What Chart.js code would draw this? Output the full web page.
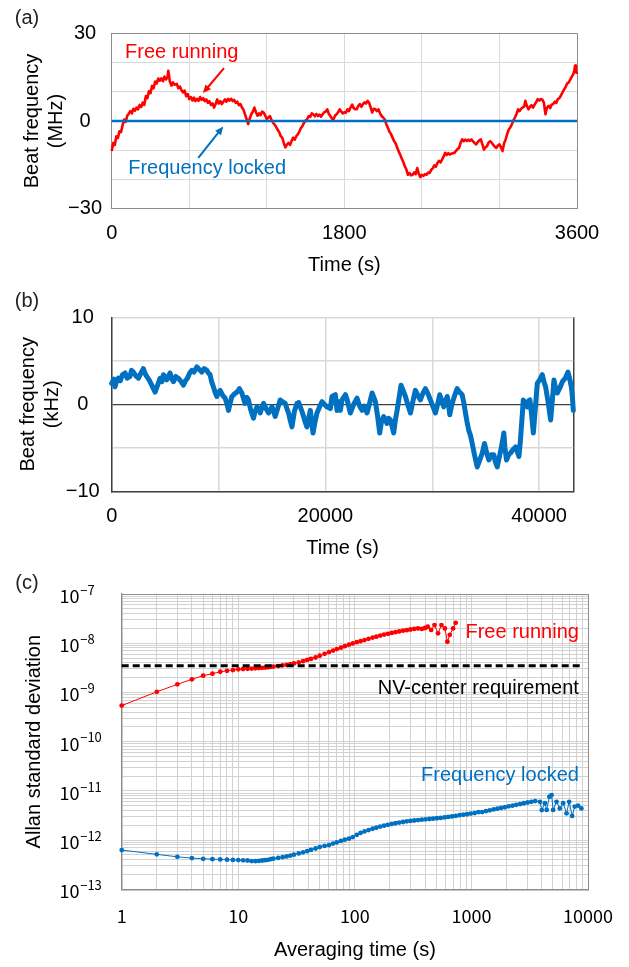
<!DOCTYPE html>
<html>
<head>
<meta charset="utf-8">
<title>Beat frequency and Allan deviation</title>
<script src="https://cdn.jsdelivr.net/npm/chart.js@4.4.1/dist/chart.umd.min.js"></script>
<style>
  html, body { margin: 0; padding: 0; background: #fff; }
  .page { position: relative; width: 629px; height: 967px; overflow: hidden; }
  canvas { position: absolute; left: 0; }
  #panelA { top: 0; }
  #panelB { top: 290px; }
  #panelC { top: 560px; }
</style>
</head>
<body>
<div class="page">
  <canvas id="panelA" width="629" height="290"></canvas>
  <canvas id="panelB" width="629" height="275"></canvas>
  <canvas id="panelC" width="629" height="407"></canvas>
</div>
<script>
// (a) beat note over one hour, MHz
const timeA = [
  0, 12, 24, 36, 48, 60, 72, 84, 96, 108,
  120, 132, 144, 156, 168, 180, 192, 204, 216, 228,
  240, 252, 264, 276, 288, 300, 312, 324, 336, 348,
  360, 372, 384, 396, 408, 420, 432, 438, 450, 462,
  474, 486, 504, 516, 528, 540, 552, 564, 576, 588,
  600, 612, 624, 636, 648, 660, 672, 684, 696, 708,
  720, 732, 744, 756, 768, 780, 792, 804, 816, 828,
  840, 852, 864, 876, 888, 900, 912, 924, 936, 948,
  960, 972, 984, 996, 1008, 1020, 1032, 1044, 1056, 1068,
  1080, 1092, 1104, 1116, 1128, 1140, 1152, 1164, 1176, 1188,
  1200, 1212, 1224, 1236, 1248, 1260, 1272, 1284, 1296, 1308,
  1320, 1332, 1344, 1356, 1368, 1380, 1392, 1404, 1416, 1428,
  1440, 1452, 1464, 1476, 1488, 1500, 1512, 1524, 1536, 1548,
  1560, 1572, 1584, 1596, 1608, 1620, 1632, 1644, 1656, 1668,
  1680, 1692, 1704, 1716, 1728, 1740, 1752, 1764, 1776, 1788,
  1800, 1812, 1824, 1836, 1848, 1860, 1872, 1884, 1896, 1908,
  1920, 1932, 1944, 1956, 1968, 1980, 1992, 2004, 2016, 2028,
  2040, 2052, 2064, 2076, 2088, 2100, 2112, 2124, 2136, 2148,
  2160, 2172, 2184, 2196, 2208, 2220, 2232, 2244, 2256, 2268,
  2280, 2292, 2304, 2316, 2328, 2340, 2352, 2364, 2376, 2388,
  2400, 2412, 2424, 2436, 2448, 2460, 2472, 2484, 2496, 2508,
  2520, 2532, 2544, 2556, 2568, 2580, 2592, 2604, 2616, 2628,
  2640, 2652, 2664, 2676, 2688, 2700, 2712, 2724, 2736, 2748,
  2760, 2772, 2784, 2796, 2808, 2820, 2832, 2844, 2856, 2868,
  2880, 2892, 2904, 2916, 2928, 2940, 2952, 2964, 2976, 2988,
  3000, 3012, 3024, 3036, 3048, 3060, 3072, 3084, 3096, 3108,
  3120, 3132, 3144, 3156, 3168, 3180, 3192, 3200, 3212, 3224,
  3236, 3248, 3260, 3272, 3284, 3296, 3308, 3320, 3332, 3344,
  3356, 3368, 3380, 3392, 3404, 3416, 3428, 3440, 3452, 3464,
  3476, 3488, 3500, 3512, 3524, 3536, 3548, 3560, 3572, 3580,
  3585, 3592, 3600
];
const freeRunA = [
  -10.3, -7.5, -8.2, -5.2, -5.8, -3.5, -3.8, -1.5, 0.5, -0.3,
  1.8, 2.5, 3.4, 2.6, 4.2, 3.5, 4.6, 4.0, 5.5, 4.8,
  6.3, 5.5, 8.5, 7.8, 10.2, 9.5, 12.0, 11.2, 13.5, 12.8,
  14.5, 13.8, 14.6, 13.6, 15.2, 14.2, 15.0, 17.2, 13.5, 12.1,
  13.2, 12.4, 12.7, 11.2, 11.8, 10.5, 9.8, 10.4, 8.5, 9.2,
  7.5, 8.2, 7.0, 8.0, 6.8, 7.6, 6.9, 8.2, 7.2, 7.8,
  6.8, 7.4, 6.2, 6.8, 5.5, 6.0, 4.6, 5.8, 7.4, 6.0,
  6.8, 5.8, 6.6, 7.4, 6.6, 7.6, 7.0, 7.6, 6.8, 7.2,
  6.2, 6.6, 5.4, 5.8, 4.6, 3.8, 2.2, 0.6, -1.1, 0.8,
  2.3, 3.2, 4.6, 3.0, 1.8, 2.6, 2.0, 3.2, 2.9, 1.8,
  0.6, 1.2, 1.7, 0.4, -0.6, -1.2, -2.0, -3.0, -3.8, -5.2,
  -5.8, -7.6, -9.0, -8.0, -7.5, -8.2, -6.8, -5.7, -6.4, -5.2,
  -4.6, -3.6, -2.4, -1.7, -0.6, 0.2, 0.6, 1.7, 1.4, 2.6,
  2.3, 1.6, 2.4, 1.7, 2.2, 1.5, 2.3, 3.0, 3.2, 4.0,
  2.4, 1.7, 0.8, 0.6, 1.8, 2.3, 3.0, 4.0, 3.2, 2.6,
  3.0, 2.8, 4.0, 3.4, 4.6, 5.6, 4.4, 4.0, 4.0, 5.2,
  5.8, 4.8, 5.8, 6.4, 6.0, 6.9, 6.2, 4.6, 2.9, 4.2,
  4.0, 3.4, 4.0, 2.6, 1.7, 1.2, 0.6, -1.0, -2.2, -3.6,
  -4.4, -5.6, -6.8, -7.6, -9.0, -10.4, -11.5, -12.8, -14.0, -15.5,
  -16.6, -18.4, -17.8, -18.6, -18.4, -17.6, -18.2, -16.1, -18.0, -19.2,
  -18.4, -18.8, -18.2, -18.4, -17.6, -17.8, -16.7, -16.2, -15.2, -15.6,
  -14.4, -13.6, -14.2, -13.2, -12.2, -10.9, -11.6, -11.0, -11.5, -11.2,
  -11.0, -10.9, -10.2, -9.6, -9.2, -7.4, -6.3, -6.9, -6.4, -6.9,
  -6.4, -6.8, -6.3, -7.0, -7.6, -8.0, -7.2, -6.6, -6.3, -8.0,
  -9.8, -9.0, -8.6, -7.4, -6.9, -7.4, -8.2, -8.8, -9.2, -8.4,
  -8.0, -9.0, -10.3, -7.6, -6.3, -4.4, -2.9, -2.2, -1.1, 0.2,
  1.2, 2.4, 4.0, 3.4, 4.2, 4.6, 5.0, 6.9, 5.2, 4.0,
  4.8, 5.4, 4.6, 5.6, 6.4, 7.5, 7.0, 7.5, 7.3, 6.2,
  2.3, 4.6, 5.2, 4.4, 5.6, 5.8, 6.6, 6.2, 7.5, 7.8,
  8.8, 9.8, 10.8, 11.6, 12.8, 13.2, 14.2, 15.2, 16.1, 17.4,
  19.0, 17.2, 16.1
];
const lockTimeA = [0, 3600];
const lockedA = [0, 0];
const xTicksA = [0, 600, 1200, 1800, 2400, 3000, 3600];
const xLabelsA = [0, 1800, 3600];
const yTicksA = [-30, -20, -10, 0, 10, 20, 30];
const yLabelsA = [-30, 0, 30];

// (b) locked beat note over 12 h, kHz
const timeB = [
  0, 200, 310, 450, 620, 800, 1000, 1250, 1450, 1715,
  1850, 2030, 2250, 2500, 2700, 2960, 3100, 3280, 3500, 3750,
  3900, 4060, 4300, 4530, 4700, 4840, 5000, 5150, 5300, 5460,
  5600, 5780, 6000, 6240, 6500, 6710, 6900, 7090, 7300, 7500,
  7700, 7970, 8200, 8430, 8650, 8900, 9050, 9210, 9350, 9520,
  9700, 9840, 10000, 10150, 10400, 10620, 10800, 10930, 11100, 11250,
  11500, 11720, 11950, 12180, 12350, 12490, 12650, 12800, 13000, 13270,
  13400, 13590, 13750, 13900, 14050, 14210, 14450, 14680, 14850, 15000,
  15150, 15300, 15550, 15770, 16000, 16240, 16400, 16550, 16700, 16870,
  17100, 17340, 17500, 17650, 17800, 17960, 18100, 18270, 18450, 18590,
  18700, 18840, 19000, 19210, 19450, 19680, 19900, 20150, 20460, 20620,
  20930, 21090, 21250, 21400, 21560, 21870, 22020, 22330, 22650, 22960,
  23200, 23430, 23650, 23900, 24150, 24370, 24680, 24900, 25080, 25250,
  25450, 25600, 25760, 25900, 26080, 26250, 26390, 26550, 26710, 26900,
  27080, 27300, 27490, 27700, 27960, 28200, 28420, 28650, 28890, 29100,
  29360, 29600, 29830, 30050, 30300, 30500, 30700, 30900, 31080, 31250,
  31400, 31520, 31640, 31800, 31960, 32150, 32330, 32550, 32800, 32950,
  33110, 33250, 33420, 33580, 33740, 33950, 34210, 34450, 34680, 34890,
  35100, 35300, 35500, 35760, 35900, 36080, 36250, 36390, 36550, 36700,
  36800, 36950, 37150, 37330, 37550, 37800, 37950, 38110, 38250, 38340,
  38450, 38520, 38700, 38890, 39000, 39140, 39300, 39460, 39650, 39830,
  40050, 40300, 40450, 40610, 40850, 41080, 41250, 41390, 41550, 41710,
  41950, 42180, 42450, 42700, 42850, 43020, 43120, 43200
];
const lockedB = [
  2.4, 2.9, 2.0, 2.6, 3.0, 2.7, 3.4, 3.6, 3.0, 3.2,
  3.9, 3.7, 3.3, 3.0, 3.5, 4.1, 3.6, 3.2, 2.8, 2.2,
  1.8, 1.4, 2.2, 3.0, 2.6, 3.4, 3.1, 2.8, 3.2, 3.6,
  3.0, 2.6, 3.2, 3.0, 2.6, 2.2, 2.7, 3.0, 3.6, 3.9,
  3.7, 4.3, 4.0, 3.7, 4.1, 3.9, 3.6, 3.4, 2.6, 2.0,
  1.3, 0.9, 1.4, 1.6, 1.0, 0.7, 0.0, -0.7, 0.2, 0.9,
  1.2, 1.4, 1.8, 1.3, 0.6, 0.1, 0.8, 0.5, -0.6, -1.6,
  -0.9, -0.3, -0.5, -1.0, -0.4, 0.1, -0.5, -1.0, -0.6, -0.3,
  -0.8, -1.4, -0.4, 0.5, 0.3, 0.1, -0.5, -1.0, -1.8, -2.6,
  -0.8, 0.1, 0.2, -0.3, -0.8, -1.4, -2.0, -2.6, -1.5, -0.7,
  -1.8, -3.3, -2.2, -1.0, -0.3, 0.3, 0.0, -0.3, -0.5, 0.9,
  1.1, -0.7, 0.3, -0.7, 0.5, 1.1, 0.6, -1.0, 0.0, 0.7,
  -0.2, -0.7, -0.2, -1.0, 0.2, 1.3, 0.3, -1.5, -3.3, -2.0,
  -1.4, -1.8, -2.2, -1.6, -1.8, -2.6, -3.3, -1.8, -0.7, 0.8,
  2.2, 1.5, 0.9, 0.0, -1.0, 0.4, 1.6, 1.0, 0.5, 1.2,
  1.8, 1.2, 0.5, -0.2, -1.0, 0.0, 1.1, 0.4, -0.3, 0.4,
  0.9, 0.0, -1.2, -0.2, 0.5, 1.2, 1.8, 1.4, 1.1, 0.2,
  -1.0, -2.0, -3.0, -3.6, -4.5, -5.8, -7.2, -6.4, -5.6, -4.5,
  -5.6, -6.4, -5.8, -5.8, -6.6, -7.2, -6.2, -5.4, -4.4, -3.3,
  -5.0, -6.4, -5.8, -5.6, -5.2, -4.9, -5.4, -6.0, -4.2, -2.6,
  -0.8, 0.5, 0.0, -0.3, 0.4, 0.5, -1.2, -3.3, -0.4, 2.4,
  2.8, 3.4, 2.6, 2.0, 0.2, -1.8, 0.6, 2.8, 1.8, 1.3,
  1.9, 2.6, 3.0, 3.7, 3.0, 2.0, 0.8, -0.7
];
const xTicksB = [0, 10000, 20000, 30000, 40000, 43200];
const xLabelsB = [0, 20000, 40000];
const yTicksB = [-10, -5, 0, 5, 10];
const yLabelsB = [-10, 0, 10];

// (c) Allan deviation
const freeTau = [
  1, 2, 3, 4, 5, 6, 7, 8, 9, 10,
  11, 12, 13, 14, 15, 16, 17, 18, 19, 20,
  22, 24, 26, 28, 30, 33, 36, 39, 42, 46,
  50, 55, 60, 65, 70, 76, 82, 89, 96, 104,
  112, 121, 131, 142, 153, 165, 178, 192, 207, 223,
  240, 259, 279, 300, 323, 348, 375, 400, 422, 451,
  482, 517, 553, 592, 622, 652, 696, 733
];
const freeAdev = [
  5.4e-10, 1.03e-9, 1.46e-9, 1.85e-9, 2.19e-9, 2.4e-9, 2.63e-9, 2.75e-9, 2.85e-9, 2.95e-9,
  2.99e-9, 3.02e-9, 3.05e-9, 3.09e-9, 3.13e-9, 3.16e-9, 3.2e-9, 3.24e-9, 3.31e-9, 3.35e-9,
  3.43e-9, 3.55e-9, 3.63e-9, 3.76e-9, 3.89e-9, 4.07e-9, 4.32e-9, 4.57e-9, 4.79e-9, 5.13e-9,
  5.56e-9, 6.1e-9, 6.6e-9, 7.08e-9, 7.59e-9, 8.13e-9, 8.71e-9, 9.33e-9, 9.9e-9, 1.05e-8,
  1.1e-8, 1.16e-8, 1.23e-8, 1.3e-8, 1.36e-8, 1.43e-8, 1.5e-8, 1.55e-8, 1.62e-8, 1.68e-8,
  1.74e-8, 1.8e-8, 1.84e-8, 1.9e-8, 1.95e-8, 2.0e-8, 1.95e-8, 2.04e-8, 2.16e-8, 1.86e-8,
  2.34e-8, 1.59e-8, 2.34e-8, 2.0e-8, 1.07e-8, 1.48e-8, 2.0e-8, 2.6e-8
];
const lockTau = [
  1, 2, 3, 4, 5, 6, 7, 8, 9, 10,
  11, 12, 13, 14, 15, 16, 17, 18, 19, 20,
  22, 24, 26, 28, 30, 33, 36, 39, 42, 46,
  50, 55, 60, 65, 70, 76, 82, 89, 96, 104,
  112, 121, 131, 142, 153, 165, 178, 192, 207, 223,
  240, 259, 279, 300, 323, 348, 375, 404, 435, 469,
  505, 544, 586, 631, 680, 733, 790, 851, 917, 988,
  1065, 1148, 1237, 1333, 1436, 1548, 1668, 1797, 1937, 2087,
  2249, 2424, 2612, 2815, 3033, 3268, 3522, 3870, 4010, 4270,
  4420, 4660, 4870, 5020, 5370, 5730, 6120, 6540, 6890, 7310,
  7690, 8220, 8770
];
const lockAdev = [
  6.27e-13, 5.13e-13, 4.57e-13, 4.3e-13, 4.17e-13, 4.1e-13, 4.05e-13, 4.0e-13, 3.95e-13, 3.92e-13,
  3.88e-13, 3.85e-13, 3.75e-13, 3.72e-13, 3.78e-13, 3.85e-13, 3.9e-13, 3.98e-13, 4.1e-13, 4.2e-13,
  4.35e-13, 4.5e-13, 4.65e-13, 4.85e-13, 5.05e-13, 5.35e-13, 5.65e-13, 5.95e-13, 6.3e-13, 6.75e-13,
  7.2e-13, 7.6e-13, 7.9e-13, 8.5e-13, 9.0e-13, 9.6e-13, 1.02e-12, 1.07e-12, 1.15e-12, 1.28e-12,
  1.4e-12, 1.5e-12, 1.6e-12, 1.7e-12, 1.78e-12, 1.88e-12, 1.96e-12, 2.04e-12, 2.12e-12, 2.2e-12,
  2.27e-12, 2.33e-12, 2.4e-12, 2.45e-12, 2.5e-12, 2.55e-12, 2.6e-12, 2.64e-12, 2.68e-12, 2.72e-12,
  2.78e-12, 2.82e-12, 2.88e-12, 2.95e-12, 3.02e-12, 3.1e-12, 3.2e-12, 3.27e-12, 3.35e-12, 3.45e-12,
  3.53e-12, 3.7e-12, 3.7e-12, 3.88e-12, 4.02e-12, 4.2e-12, 4.35e-12, 4.5e-12, 4.65e-12, 4.85e-12,
  5.0e-12, 5.2e-12, 5.4e-12, 5.6e-12, 5.8e-12, 6.0e-12, 6.2e-12, 6.0e-12, 4.07e-12, 5.6e-12,
  4.1e-12, 7.6e-12, 8.2e-12, 4.1e-12, 6.0e-12, 4.4e-12, 5.6e-12, 3.5e-12, 6.0e-12, 3.1e-12,
  4.8e-12, 5.0e-12, 4.4e-12
];
const nvTau = [1, 8770];
const nvAdev = [3.5e-9, 3.5e-9];
const tauDecades = [1, 10, 100, 1000, 10000];
const adevDecades = [1e-13, 1e-12, 1e-11, 1e-10, 1e-9, 1e-8, 1e-7];

const FONT = "'Liberation Sans', Arial, sans-serif";
const JP = "'Noto Sans CJK JP', 'Liberation Sans', sans-serif";
const INK = '#000000';
const RED = '#ff0000';
const BLUE = '#0070c0';
const GRID = '#d9d9d9';

const pts = (xs, ys) => xs.map((v, i) => ({ x: v, y: ys[i] }));
const setTicks = list => scale => { scale.ticks = list.map(v => ({ value: v })); };
const signed = v => (v < 0 ? '\u2212' + Math.abs(v) : String(v));
const font = (size, family) => ({ family: family || FONT, size: size, lineHeight: 1.2 });
const isDecade = (v, list) => list.some(d => Math.abs(v / d - 1) < 1e-6);

// 1..9 x every decade, for log grid lines
function logGrid(decades) {
  const out = [];
  decades.slice(0, -1).forEach(d => { for (let m = 1; m <= 9; m++) out.push(m * d); });
  out.push(decades[decades.length - 1]);
  return out;
}

function drawArrow(ctx, x1, y1, x2, y2, color) {
  const a = Math.atan2(y2 - y1, x2 - x1);
  const h = 9;
  ctx.strokeStyle = color;
  ctx.fillStyle = color;
  ctx.lineWidth = 2;
  ctx.beginPath();
  ctx.moveTo(x1, y1);
  ctx.lineTo(x2 - h * 0.7 * Math.cos(a), y2 - h * 0.7 * Math.sin(a));
  ctx.stroke();
  ctx.beginPath();
  ctx.moveTo(x2, y2);
  ctx.lineTo(x2 - h * Math.cos(a - 0.42), y2 - h * Math.sin(a - 0.42));
  ctx.lineTo(x2 - h * Math.cos(a + 0.42), y2 - h * Math.sin(a + 0.42));
  ctx.closePath();
  ctx.fill();
}

// panel letter, text notes and arrows (notes placed in data units)
function overlay(tag, notes, arrows) {
  return {
    id: 'overlay',
    afterDatasetsDraw(chart) {
      const { ctx, scales: { x, y } } = chart;
      ctx.save();
      ctx.font = '20px ' + FONT;
      ctx.textBaseline = 'middle';
      ctx.textAlign = 'center';
      ctx.fillStyle = '#222';
      ctx.fillText(tag.text, tag.px, tag.py);
      notes.forEach(n => {
        ctx.fillStyle = n.color;
        ctx.textAlign = n.align;
        ctx.fillText(n.text, x.getPixelForValue(n.x), y.getPixelForValue(n.y));
      });
      arrows.forEach(a => {
        drawArrow(ctx, x.getPixelForValue(a.from[0]), y.getPixelForValue(a.from[1]),
          x.getPixelForValue(a.to[0]), y.getPixelForValue(a.to[1]), a.color);
      });
      ctx.restore();
    }
  };
}

// "10" with a raised exponent for each decade of the log y axis
const powerLabels = {
  id: 'powerLabels',
  afterDraw(chart) {
    const { ctx, scales: { y } } = chart;
    ctx.save();
    ctx.fillStyle = INK;
    ctx.textAlign = 'left';
    ctx.textBaseline = 'alphabetic';
    adevDecades.forEach(d => {
      const py = y.getPixelForValue(d);
      const exp = Math.round(Math.log10(d));
      ctx.font = "18px 'Noto Sans CJK JP', sans-serif";
      ctx.fillText('10', 59.4, py + 9);
      const w = ctx.measureText('10').width;
      ctx.font = "13px 'Noto Sans CJK JP', sans-serif";
      ctx.fillText('\u2212' + Math.abs(exp), 59.4 + w + 0.8, py + 0.8);
    });
    ctx.restore();
  }
};

const base = {
  responsive: false,
  animation: false,
  events: [],
  plugins: { legend: { display: false }, tooltip: { enabled: false } }
};

// ---- (a)
new Chart(document.getElementById('panelA'), {
  type: 'line',
  data: {
    datasets: [
      { data: pts(lockTimeA, lockedA), borderColor: BLUE, borderWidth: 2.5, pointRadius: 0, clip: 2 },
      { data: pts(timeA, freeRunA), borderColor: RED, borderWidth: 2.6, borderJoinStyle: 'round',
        pointRadius: 0, clip: 2 }
    ]
  },
  options: {
    ...base,
    layout: { padding: { left: 0, top: 33.3, right: 52, bottom: 0 } },
    scales: {
      x: {
        type: 'linear', min: 0, max: 3600,
        afterBuildTicks: setTicks(xTicksA),
        afterFit: s => { s.height = 81.3; },
        grid: { drawTicks: false, color: c => (c.tick && c.tick.value === 3600 ? '#8c8c8c' : GRID) },
        border: { color: '#8c8c8c' },
        ticks: { autoSkip: false, maxRotation: 0, padding: 12.3, color: INK, font: font(20),
          callback: v => (xLabelsA.includes(v) ? String(v) : '') },
        title: { display: true, text: 'Time (s)', color: INK, font: font(20), padding: { top: 0, bottom: 13 } }
      },
      y: {
        type: 'linear', min: -30, max: 30,
        afterBuildTicks: setTicks(yTicksA),
        afterFit: s => { s.width = 111.7; },
        grid: { drawTicks: false, color: c => (c.tick && c.tick.value === 30 ? '#8c8c8c' : GRID) },
        border: { color: '#8c8c8c' },
        ticks: { autoSkip: false, crossAlign: 'center', padding: 9.7, color: INK, font: font(20),
          callback: v => (yLabelsA.includes(v) ? signed(v) : '') },
        title: { display: true, text: ['Beat frequency', '(MHz)'], color: INK, font: font(20), padding: { top: 20, bottom: 0 } }
      }
    }
  },
  plugins: [overlay(
    { text: '(a)', px: 27, py: 18 },
    [
      { text: 'Free running', x: 103, y: 23.6, color: RED, align: 'left' },
      { text: 'Frequency locked', x: 128, y: -16.1, color: BLUE, align: 'left' }
    ],
    [
      { from: [869, 18.1], to: [706, 9.55], color: RED },
      { from: [670, -12.6], to: [863, -1.9], color: BLUE }
    ]
  )]
});

// ---- (b)
new Chart(document.getElementById('panelB'), {
  type: 'line',
  data: {
    datasets: [
      { data: pts(timeB, lockedB), borderColor: BLUE, borderWidth: 5, borderJoinStyle: 'round',
        borderCapStyle: 'round', pointRadius: 0, clip: 3 }
    ]
  },
  options: {
    ...base,
    layout: { padding: { left: 0, top: 27.3, right: 55.7, bottom: 0 } },
    scales: {
      x: {
        type: 'linear', min: 0, max: 43200,
        afterBuildTicks: setTicks(xTicksB),
        afterFit: s => { s.height = 73.7; },
        grid: { drawTicks: false, lineWidth: 1.5, color: c => (c.tick && c.tick.value === 43200 ? '#404040' : GRID) },
        border: { color: '#404040', width: 1.5 },
        ticks: { autoSkip: false, maxRotation: 0, padding: 13.4, color: INK, font: font(20),
          callback: v => (xLabelsB.includes(v) ? String(v) : '') },
        title: { display: true, text: 'Time (s)', color: INK, font: font(20), padding: { top: 0, bottom: 4.7 } }
      },
      y: {
        type: 'linear', min: -10, max: 10,
        afterBuildTicks: setTicks(yTicksB),
        afterFit: s => { s.width = 111.7; },
        grid: { drawTicks: false, lineWidth: c => (c.tick && c.tick.value === 0 ? 1.2 : 1.5),
          color: c => (c.tick && c.tick.value === 0 ? '#404040' : GRID) },
        border: { color: '#404040', width: 1.5 },
        ticks: { autoSkip: false, crossAlign: 'center', padding: 12, color: INK, font: font(20),
          callback: v => (yLabelsB.includes(v) ? signed(v) : '') },
        title: { display: true, text: ['Beat frequency', '(kHz)'], color: INK, font: font(20), padding: { top: 16, bottom: 0 } }
      }
    }
  },
  plugins: [overlay({ text: '(b)', px: 27, py: 11.7 }, [], [])]
});

// ---- (c)
new Chart(document.getElementById('panelC'), {
  type: 'line',
  data: {
    datasets: [
      { data: pts(nvTau, nvAdev), borderColor: '#000', borderWidth: 3, borderDash: [7, 4], pointRadius: 0, clip: 2 },
      { data: pts(freeTau, freeAdev), borderColor: RED, backgroundColor: RED, borderWidth: 1,
        pointRadius: 2.4, pointBorderWidth: 0, pointBackgroundColor: RED, clip: 6 },
      { data: pts(lockTau, lockAdev), borderColor: BLUE, backgroundColor: BLUE, borderWidth: 1,
        pointRadius: 2.4, pointBorderWidth: 0, pointBackgroundColor: BLUE, clip: 6 }
    ]
  },
  options: {
    ...base,
    layout: { padding: { left: 59.4, top: 34, right: 37.5, bottom: 0 } },
    scales: {
      x: {
        type: 'logarithmic', min: 1, max: 10000,
        afterBuildTicks: setTicks(logGrid(tauDecades)),
        afterFit: s => { s.height = 77.7; },
        grid: { drawTicks: false, color: c => (c.tick && c.tick.value === 10000 ? '#8c8c8c' : '#d2d2d2') },
        border: { color: '#8c8c8c', width: 1.5 },
        ticks: { autoSkip: false, maxRotation: 0, padding: 16, color: INK, font: font(18, JP),
          callback: v => (isDecade(v, tauDecades) ? String(v) : '') },
        title: { display: true, text: 'Averaging time (s)', color: INK, font: font(20), padding: { top: 0, bottom: 5 } }
      },
      y: {
        type: 'logarithmic', min: 1e-13, max: 1e-7,
        afterBuildTicks: setTicks(logGrid(adevDecades)),
        afterFit: s => { s.width = 62.3; },
        grid: { drawTicks: false, color: c => (c.tick && isDecade(c.tick.value, [1e-7]) ? '#8c8c8c' : '#d2d2d2') },
        border: { color: '#8c8c8c', width: 1.5 },
        // decade labels are drawn with a raised exponent by powerLabels
        ticks: { autoSkip: false, crossAlign: 'far', padding: 4, color: INK, font: font(18, JP), callback: () => '' },
        title: { display: true, text: 'Allan standard deviation', color: INK, font: font(20), padding: { top: -37.4, bottom: 0 } }
      }
    }
  },
  plugins: [powerLabels, overlay(
    { text: '(c)', px: 27, py: 23 },
    [
      { text: 'Free running', x: 8350, y: 1.67e-8, color: RED, align: 'right' },
      { text: 'NV-center requirement', x: 8350, y: 1.21e-9, color: '#000', align: 'right' },
      { text: 'Frequency locked', x: 8350, y: 2.09e-11, color: BLUE, align: 'right' }
    ],
    []
  )]
});
</script>
</body>
</html>
